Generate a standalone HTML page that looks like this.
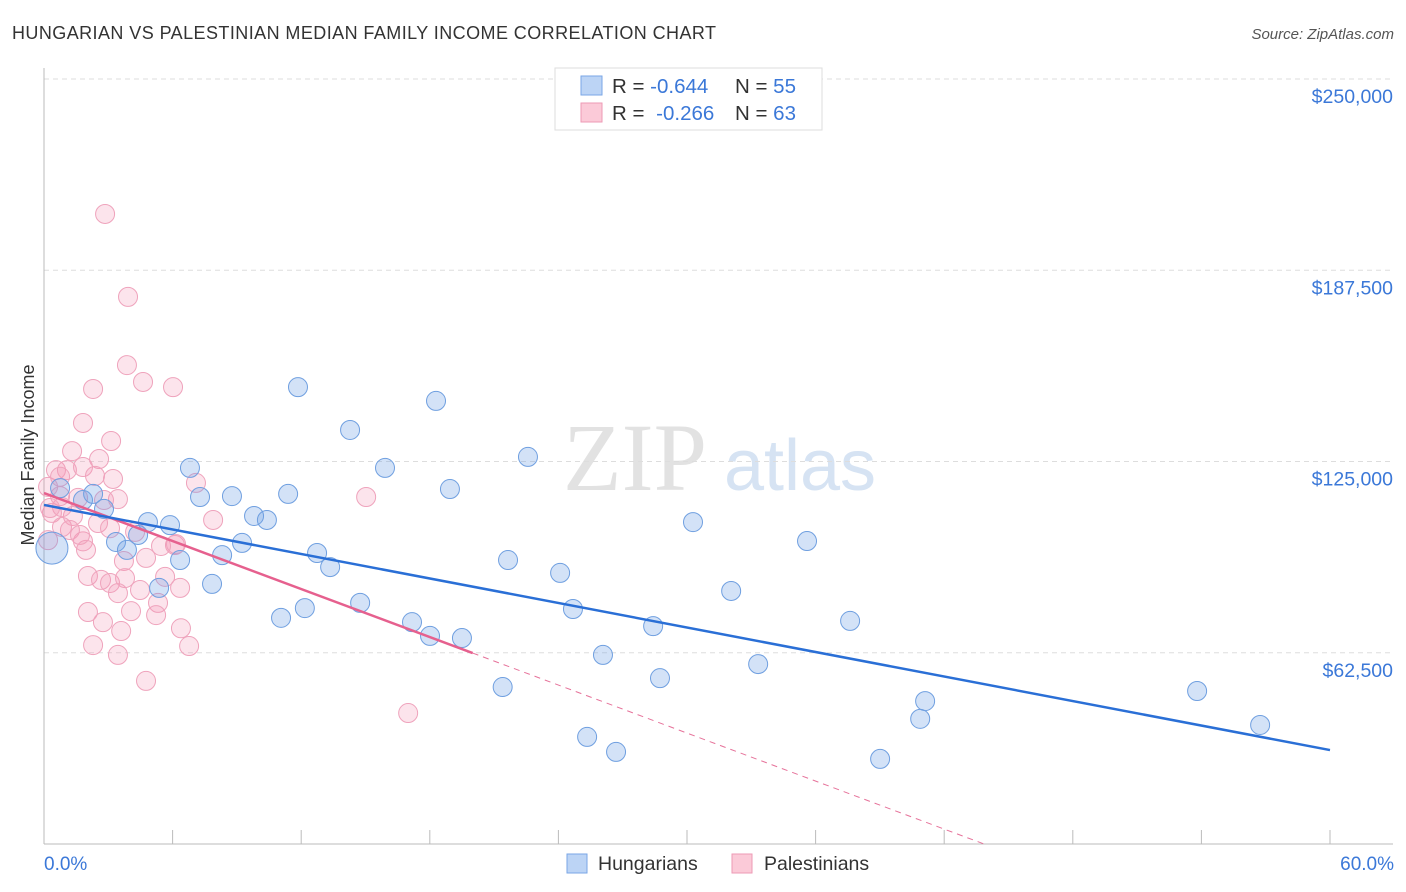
<!DOCTYPE html>
<html><head><meta charset="utf-8"><style>
body{margin:0;background:#fff;font-family:"Liberation Sans",sans-serif;}
svg{display:block}
</style></head><body>
<svg id="chart" width="1406" height="892" xmlns="http://www.w3.org/2000/svg">
<text x="12" y="39" font-size="18" fill="#333" textLength="704">HUNGARIAN VS PALESTINIAN MEDIAN FAMILY INCOME CORRELATION CHART</text>
<text x="1394" y="39" font-size="15" fill="#555" font-style="italic" text-anchor="end">Source: ZipAtlas.com</text>
<g>
<text x="635" y="490" font-size="96" font-family="Liberation Serif,serif" fill="#e2e2e2" text-anchor="middle">ZIP</text>
<text x="800" y="490" font-size="72" fill="#d6e3f3" text-anchor="middle">atlas</text>
</g>
<g id="grid"></g>
<g id="axes"></g>
<g id="marks"></g>
<text transform="translate(34,455) rotate(-90)" font-size="18" fill="#333" text-anchor="middle">Median Family Income</text>
<text x="44" y="870" font-size="19" fill="#3b78d8">0.0%</text>
<text x="1394" y="870" font-size="19" fill="#3b78d8" text-anchor="end">60.0%</text>
<g>
<rect x="555" y="68" width="267" height="62" fill="#fff" stroke="#ddd"/>
<rect x="581" y="76" width="21" height="19" fill="#bcd4f5" stroke="#7aa6e6"/>
<rect x="581" y="103" width="21" height="19" fill="#fbcad8" stroke="#ee9ab5"/>
<text x="612" y="93" font-size="20.5" fill="#333">R = <tspan fill="#3b78d8">-0.644</tspan><tspan x="735">N = </tspan><tspan fill="#3b78d8">55</tspan></text>
<text x="612" y="120" font-size="20.5" fill="#333">R = <tspan fill="#3b78d8" dx="6">-0.266</tspan><tspan x="735">N = </tspan><tspan fill="#3b78d8">63</tspan></text>
</g>
<g>
<rect x="567" y="854" width="20" height="19" fill="#bcd4f5" stroke="#7aa6e6"/>
<text x="598" y="870" font-size="19.5" fill="#333">Hungarians</text>
<rect x="732" y="854" width="20" height="19" fill="#fbcad8" stroke="#ee9ab5"/>
<text x="764" y="870" font-size="19.5" fill="#333">Palestinians</text>
</g>
</svg>
<script>
const yTicks=[62500,125000,187500,250000];
const yTickLabels=["$62,500","$125,000","$187,500","$250,000"];
const xTicks=[0,6,12,18,24,30,36,42,48,54,60];
const hunX=[0.37,0.75,2.29,1.82,2.8,3.36,3.87,4.39,4.85,5.37,5.88,6.35,6.81,7.28,7.84,8.31,8.77,9.24,9.8,10.4,11.06,11.39,11.85,12.17,12.74,13.35,14.28,14.75,15.91,17.17,18.01,18.29,18.94,19.5,21.4,21.65,22.58,24.08,24.68,25.34,26.08,26.69,28.42,28.74,30.28,32.06,33.32,35.6,37.61,39.01,40.88,41.11,53.8,56.74];
const hunY=[96.7,116.3,114.4,112.4,109.5,98.7,96.1,101,105.2,83.7,104.2,92.8,122.9,113.4,85,94.4,113.7,98.4,107.2,105.9,73.9,114.4,149.3,77.1,95.1,90.5,135.3,78.8,122.9,72.5,68,144.8,116,67.3,51.3,92.8,126.5,88.6,76.8,35,61.8,30.1,71.2,54.2,105.2,82.7,58.8,99,72.9,27.8,40.9,46.7,50,38.9];
const palX=[2.85,3.92,3.87,4.62,6.02,2.29,1.82,3.13,1.31,2.57,0.56,1.07,1.82,3.22,2.38,7.09,0.19,0.75,1.59,0.37,1.35,3.45,0.84,2.52,15.03,7.89,2.8,0.84,1.21,4.25,0.19,1.82,1.96,6.11,4.76,3.73,2.05,2.66,3.08,3.78,5.65,6.35,3.45,5.32,2.05,4.06,5.23,2.75,6.39,3.6,2.29,6.77,3.45,4.76,16.99,6.16,5.46,0.75,0.28,3.08,1.68,4.48];
const palY=[205.9,178.8,156.5,151,149.3,148.7,137.6,131.7,128.4,125.8,122.2,122.2,123.2,119.3,120.3,118,116.7,113.7,113.1,108.2,107.2,112.7,110.1,104.9,113.4,105.9,112.4,103.6,102.6,102,99.3,98.9,96.1,97.7,93.5,92.5,87.6,86.3,85.3,86.9,87.3,83.7,82,78.8,75.8,76.1,74.8,72.5,70.5,69.6,65,64.7,61.8,53.3,42.8,98,97.4,120,109.8,103.2,101,83];
const hunTrend=[110.8,30.7];
const palTrend=[114.7,62.4];
const NS="http://www.w3.org/2000/svg";
function sx(p){return 44+p/60*1286;}
function sy(k){return 844-k/250*765;}
function mk(tag,attrs,parent){const e=document.createElementNS(NS,tag);for(const k in attrs)e.setAttribute(k,attrs[k]);parent.appendChild(e);return e;}
const grid=document.getElementById('grid'),axes=document.getElementById('axes'),marks=document.getElementById('marks');
yTicks.forEach((v,i)=>{
 const l=mk('line',{x1:44,x2:1393,y1:sy(v/1000),y2:sy(v/1000),stroke:'#ddd','stroke-dasharray':'5,4'},grid);
 
 
 const t=mk('text',{x:1393,y:sy(v/1000)+24,'font-size':19.5,fill:'#3b78d8','text-anchor':'end'},axes);
 t.textContent=yTickLabels[i];
 
 
});
const ya=mk('line',{x1:44,x2:44,y1:68,y2:844,stroke:'#bbb'},axes);


const xa=mk('line',{x1:44,x2:1393,y1:844,y2:844,stroke:'#bbb'},axes);


xTicks.forEach(p=>{
 const t=mk('line',{x1:sx(p),x2:sx(p),y1:830,y2:844,stroke:'#bbb'},axes);
 
 
});
palX.forEach((x,i)=>{
 const c=mk('circle',{cx:sx(x),cy:sy(palY[i]),r:9.5,fill:'rgba(244,150,180,0.26)',stroke:'#efa3bc','stroke-width':1},marks);
 
 
});
hunX.forEach((x,i)=>{
 const c=mk('circle',{cx:sx(x),cy:sy(hunY[i]),r:i===0?16:9.5,fill:'rgba(110,160,230,0.3)',stroke:'#6f9fe0','stroke-width':1},marks);
 
 
});
const slopeP=(palTrend[1]-palTrend[0])/20;
const zeroP=-palTrend[0]/slopeP;
const pd=mk('line',{x1:sx(20),y1:sy(palTrend[1]),x2:sx(zeroP),y2:sy(0),stroke:'#e6729a','stroke-width':1,'stroke-dasharray':'6,5'},marks);


const ps=mk('line',{x1:sx(0),y1:sy(palTrend[0]),x2:sx(20),y2:sy(palTrend[1]),stroke:'#e6608e','stroke-width':2.5},marks);


const hl=mk('line',{x1:sx(0),y1:sy(hunTrend[0]),x2:sx(60),y2:sy(hunTrend[1]),stroke:'#2a6fd6','stroke-width':2.5},marks);


</script>
</body></html>
